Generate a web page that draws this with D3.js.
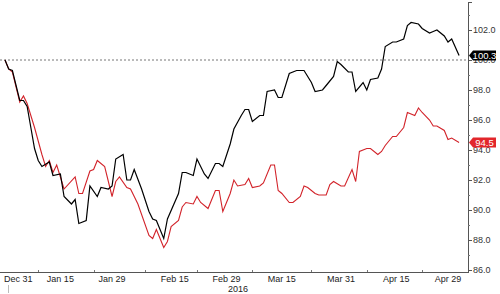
<!DOCTYPE html>
<html>
<head>
<meta charset="utf-8">
<script src="https://cdnjs.cloudflare.com/ajax/libs/d3/7.8.5/d3.min.js"></script>
<style>
	body{margin:0;background:#fff;}
	text{font-family:'Liberation Sans',Arial,sans-serif;}
</style>
</head>
<body>
<script>
// black series (left side of the chart = base 100 index)
var blackDates = ['2015-12-31','2016-01-01','2016-01-02','2016-01-04','2016-01-05','2016-01-06','2016-01-07','2016-01-08','2016-01-09','2016-01-10',
	'2016-01-12','2016-01-13','2016-01-15','2016-01-16','2016-01-18','2016-01-19','2016-01-20','2016-01-22','2016-01-23','2016-01-25',
	'2016-01-26','2016-01-28','2016-01-29','2016-01-30','2016-02-01','2016-02-02','2016-02-03','2016-02-04','2016-02-06','2016-02-08',
	'2016-02-09','2016-02-10','2016-02-12','2016-02-13','2016-02-16','2016-02-17','2016-02-18','2016-02-20','2016-02-21','2016-02-23',
	'2016-02-24','2016-02-26','2016-02-27','2016-02-28','2016-03-01','2016-03-02','2016-03-04','2016-03-05','2016-03-06','2016-03-07',
	'2016-03-09','2016-03-10','2016-03-11','2016-03-13','2016-03-14','2016-03-15','2016-03-17','2016-03-19','2016-03-21','2016-03-23',
	'2016-03-24','2016-03-26','2016-03-27','2016-03-29','2016-03-30','2016-03-31','2016-04-02','2016-04-03','2016-04-04','2016-04-06',
	'2016-04-07','2016-04-08','2016-04-10','2016-04-11','2016-04-12','2016-04-14','2016-04-15','2016-04-17','2016-04-18','2016-04-19',
	'2016-04-21','2016-04-22','2016-04-24','2016-04-25','2016-04-26','2016-04-28','2016-04-29','2016-04-30','2016-05-02'];
var blackValues = [100.0,99.4,99.3,97.3,97.3,96.9,95.5,94.1,93.3,92.9,
	93.2,92.3,92.4,90.9,90.4,90.7,89.1,89.3,91.6,90.9,
	91.5,91.4,91.6,93.4,93.7,92.0,92.0,92.7,91.4,89.9,
	89.4,89.3,88.1,89.4,91.1,92.5,92.5,92.3,93.4,92.4,
	92.1,93.1,93.1,92.9,94.4,95.4,96.3,96.7,96.7,95.9,
	96.3,96.3,97.9,98.0,97.5,97.5,99.1,99.3,99.3,98.5,
	97.9,98.0,98.3,98.9,99.9,99.7,99.2,99.2,97.9,98.5,
	98.0,98.7,98.8,99.4,100.9,101.2,101.2,101.4,102.3,102.5,
	102.4,102.1,101.8,101.9,102.0,101.6,101.2,101.4,100.3];

// red series
var redDates = ['2015-12-31','2016-01-01','2016-01-02','2016-01-04','2016-01-05','2016-01-06','2016-01-08','2016-01-10','2016-01-11','2016-01-12',
	'2016-01-13','2016-01-14','2016-01-16','2016-01-19','2016-01-20','2016-01-21','2016-01-23','2016-01-24','2016-01-25','2016-01-27',
	'2016-01-29','2016-01-30','2016-01-31','2016-02-02','2016-02-03','2016-02-05','2016-02-08','2016-02-09','2016-02-10','2016-02-12',
	'2016-02-13','2016-02-14','2016-02-16','2016-02-17','2016-02-18','2016-02-20','2016-02-21','2016-02-22','2016-02-24','2016-02-26',
	'2016-02-27','2016-02-28','2016-03-01','2016-03-02','2016-03-03','2016-03-05','2016-03-06','2016-03-07','2016-03-09','2016-03-10',
	'2016-03-12','2016-03-13','2016-03-14','2016-03-15','2016-03-17','2016-03-18','2016-03-20','2016-03-21','2016-03-22','2016-03-24',
	'2016-03-25','2016-03-27','2016-03-28','2016-03-29','2016-03-31','2016-04-01','2016-04-03','2016-04-04','2016-04-05','2016-04-07',
	'2016-04-08','2016-04-10','2016-04-11','2016-04-12','2016-04-14','2016-04-15','2016-04-17','2016-04-18','2016-04-20','2016-04-21',
	'2016-04-22','2016-04-24','2016-04-25','2016-04-26','2016-04-28','2016-04-29','2016-04-30','2016-05-02'];
var redValues = [100.0,99.4,99.2,97.2,97.6,97.1,95.5,93.7,92.9,93.3,
	92.5,93.0,91.4,92.2,91.1,91.1,92.6,92.7,93.3,92.9,
	90.9,91.9,92.2,91.5,91.4,90.4,88.3,88.1,88.7,87.5,
	87.9,88.9,89.3,90.2,90.5,90.4,90.9,90.5,90.1,91.3,
	91.3,89.9,91.1,92.0,91.6,91.7,92.1,91.5,91.6,91.8,
	93.0,93.0,91.3,91.1,90.5,90.5,90.9,91.6,91.5,91.1,
	91.0,91.0,91.7,91.9,91.6,91.6,92.7,91.9,93.9,94.1,
	94.1,93.7,93.9,94.3,94.9,94.9,95.5,96.5,96.3,96.8,
	96.5,96.0,95.6,95.6,95.3,94.7,94.8,94.5];

var xLabelDates = ['2015-12-31','2016-01-15','2016-01-29','2016-02-15','2016-02-29','2016-03-15','2016-03-31','2016-04-15','2016-04-29'];
var xLabels = ['Dec 31','Jan 15','Jan 29','Feb 15','Feb 29','Mar 15','Mar 31','Apr 15','Apr 29'];
var xTickDates = ['2016-01-09','2016-01-24','2016-02-07','2016-02-21','2016-03-07','2016-03-23','2016-04-07','2016-04-22'];
var yearLabel = '2016';
var yTicks = [86,88,90,92,94,96,98,100,102];
var yMinorTicks = [87,89,91,93,95,97,99,101,103];
var refLevel = 100;

var width = 500;
var height = 294;
var axisX = 468;
var axisY = 272;
var parse = d3.utcParse('%Y-%m-%d');

var xScale = d3.scaleUtc()
				.domain([parse('2015-12-31'),parse('2016-04-29')])
				.range([5,448]);
var yScale = d3.scaleLinear()
				.domain([86,104])
				.range([270,0]);

var canvas = d3.select('body')
				.append('svg')
				.attr('width',width)
				.attr('height',height);

canvas.append('clipPath')
		.attr('id','plot')
		.append('rect')
		.attr('x',0)
		.attr('y',0)
		.attr('width',axisX)
		.attr('height',axisY);

// dotted reference line at 100
canvas.append('line')
		.attr('x1',0)
		.attr('x2',axisX)
		.attr('y1',yScale(refLevel))
		.attr('y2',yScale(refLevel))
		.style('stroke','#777')
		.style('stroke-width',1)
		.style('stroke-dasharray','2,2');

var line = d3.line()
				.x((d)=>xScale(d.date))
				.y((d)=>yScale(d.value));

var blackData = blackDates.map((d,i)=>({date:parse(d),value:blackValues[i]}));
var redData = redDates.map((d,i)=>({date:parse(d),value:redValues[i]}));

canvas.append('path')
		.datum(redData)
		.attr('clip-path','url(#plot)')
		.attr('d',line)
		.style('fill','none')
		.style('stroke','#d2232a')
		.style('stroke-width',1.1);
canvas.append('path')
		.datum(blackData)
		.attr('clip-path','url(#plot)')
		.attr('d',line)
		.style('fill','none')
		.style('stroke','#000')
		.style('stroke-width',1.2);

// right axis
var rightAxis = canvas.append('g');
rightAxis.append('line')
		.attr('x1',axisX+0.5)
		.attr('x2',axisX+0.5)
		.attr('y1',2)
		.attr('y2',axisY)
		.style('stroke','#555');
rightAxis.append('line')
		.attr('x1',axisX)
		.attr('x2',axisX+4)
		.attr('y1',2.5)
		.attr('y2',2.5)
		.style('stroke','#555');
rightAxis.selectAll('.major')
		.data(yTicks)
		.enter()
		.append('line')
		.attr('x1',axisX)
		.attr('x2',axisX+4)
		.attr('y1',(d)=>Math.round(yScale(d))+0.5)
		.attr('y2',(d)=>Math.round(yScale(d))+0.5)
		.style('stroke','#555');
rightAxis.selectAll('.minor')
		.data(yMinorTicks)
		.enter()
		.append('line')
		.attr('x1',axisX)
		.attr('x2',axisX+2)
		.attr('y1',(d)=>Math.round(yScale(d))+0.5)
		.attr('y2',(d)=>Math.round(yScale(d))+0.5)
		.style('stroke','#777');
rightAxis.selectAll('text')
		.data(yTicks)
		.enter()
		.append('text')
		.attr('x',axisX+5)
		.attr('y',(d)=>yScale(d))
		.attr('dy','0.35em')
		.style('font-size','9px')
		.style('fill','#333')
		.text((d)=>d.toFixed(1));

// bottom axis
var bottomAxis = canvas.append('g');
bottomAxis.append('line')
		.attr('x1',0)
		.attr('x2',axisX+1)
		.attr('y1',axisY+0.5)
		.attr('y2',axisY+0.5)
		.style('stroke','#555');
bottomAxis.selectAll('.tick')
		.data(xTickDates)
		.enter()
		.append('line')
		.attr('x1',(d)=>Math.round(xScale(parse(d)))+0.5)
		.attr('x2',(d)=>Math.round(xScale(parse(d)))+0.5)
		.attr('y1',axisY-2)
		.attr('y2',axisY)
		.style('stroke','#777');
bottomAxis.selectAll('text')
		.data(xLabels)
		.enter()
		.append('text')
		.attr('x',(d,i)=>i==0 ? 4 : xScale(parse(xLabelDates[i])))
		.attr('y',282)
		.attr('text-anchor',(d,i)=>i==0 ? 'start' : 'middle')
		.style('font-size','9px')
		.style('fill','#222')
		.text((d)=>d);
bottomAxis.append('line')
		.attr('x1',8.5)
		.attr('x2',8.5)
		.attr('y1',285)
		.attr('y2',293)
		.style('stroke','#bbb');
bottomAxis.append('text')
		.attr('x',238)
		.attr('y',292)
		.attr('text-anchor','middle')
		.style('font-size','9px')
		.style('fill','#222')
		.text(yearLabel);

// last value tags
var lastTags = [
	{value:blackValues[blackValues.length-1],color:'#000'},
	{value:redValues[redValues.length-1],color:'#e2262b'}
];
var tags = canvas.selectAll('.tag')
		.data(lastTags)
		.enter()
		.append('g')
		.attr('transform',(d)=>'translate('+(axisX+1)+','+yScale(d.value)+')');
tags.append('path')
		.attr('d','M0,0L4,-5L27,-5L27,5L4,5Z')
		.style('fill',(d)=>d.color);
tags.append('text')
		.attr('x',15.5)
		.attr('dy','0.35em')
		.attr('text-anchor','middle')
		.style('font-size','9.5px')
		.style('fill','#fff')
		.text((d)=>d.value.toFixed(1));
</script>
</body>
</html>
